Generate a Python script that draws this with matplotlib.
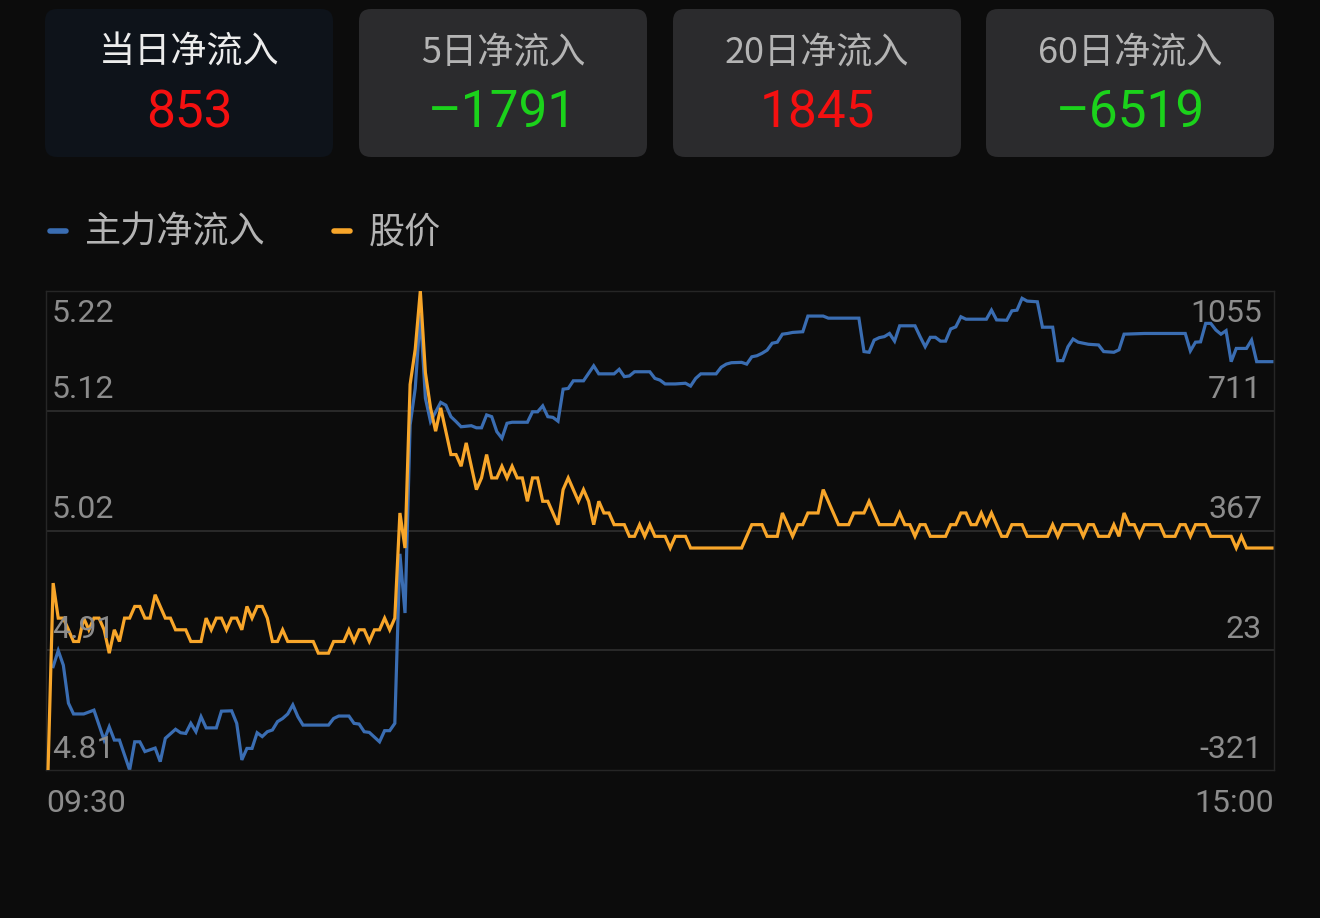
import numpy as np
import matplotlib
matplotlib.use('Agg')
import matplotlib.pyplot as plt
from matplotlib.patches import FancyBboxPatch
from matplotlib.lines import Line2D
from matplotlib.transforms import IdentityTransform

# summary cards
card_titles = ['当日净流入', '5日净流入', '20日净流入', '60日净流入']
card_values = [853, -1791, 1845, -6519]

# legend
series_names = ['主力净流入', '股价']

# axis labels
price_labels = ['4.81', '4.91', '5.02', '5.12', '5.22']
flow_labels = ['-321', '23', '367', '711', '1055']
time_labels = ['09:30', '15:00']

# main net inflow (minute index, value)
flow_idx = [1, 2, 3, 4, 5, 7, 9, 11, 12, 13, 14, 16, 17, 18, 19, 21, 22, 23, 25, 26,
            27, 28, 29, 30, 31, 33, 34, 36, 37, 38, 39, 40, 41, 42, 43, 44, 45, 46, 47, 48,
            49, 50, 55, 56, 57, 59, 60, 61, 62, 63, 65, 66, 67, 68, 69, 70, 71, 72, 73, 74,
            75, 77, 78, 79, 80, 81, 83, 84, 85, 86, 87, 88, 89, 90, 91, 94, 95, 96, 97, 98,
            99, 100, 101, 102, 103, 105, 107, 108, 111, 112, 113, 114, 115, 118, 119, 120, 121, 123, 125, 126,
            127, 128, 131, 132, 133, 134, 136, 137, 138, 139, 140, 141, 142, 143, 144, 145, 146, 148, 149, 152,
            153, 159, 160, 161, 162, 163, 164, 165, 166, 167, 170, 171, 172, 173, 174, 175, 176, 177, 178, 179,
            180, 184, 185, 186, 188, 189, 190, 191, 192, 194, 195, 197, 198, 199, 200, 201, 202, 204, 206, 207,
            209, 210, 211, 215, 223, 224, 225, 226, 227, 228, 229, 230, 231, 232, 233, 235, 236, 237, 240]
flow_vals = [-24, 22, -20, -129, -160, -160, -149, -235, -197, -235, -235, -321, -240, -240, -268, -258, -297, -230, -204, -214,
             -216, -187, -211, -168, -200, -200, -152, -151, -187, -292, -259, -259, -214, -225, -211, -206, -182, -173, -160, -134,
             -168, -192, -192, -173, -166, -166, -187, -189, -211, -213, -240, -208, -208, -187, 300, 130, 670, 775, 990, 747,
             680, 735, 727, 694, 680, 665, 668, 662, 662, 699, 694, 651, 632, 675, 678, 678, 708, 708, 725, 694,
             692, 681, 773, 775, 797, 797, 840, 817, 817, 830, 809, 811, 823, 823, 804, 799, 788, 788, 790, 782,
             804, 817, 817, 836, 845, 849, 850, 845, 866, 869, 876, 885, 905, 908, 931, 933, 936, 938, 983, 983,
             977, 977, 881, 879, 914, 921, 924, 933, 911, 955, 955, 924, 895, 922, 922, 911, 911, 946, 952, 981,
             974, 974, 1000, 972, 971, 998, 1000, 1034, 1026, 1024, 951, 951, 855, 855, 895, 917, 908, 902, 900, 881,
             879, 886, 931, 933, 933, 883, 908, 909, 962, 962, 943, 931, 941, 852, 890, 890, 914, 852, 852]

# share price (minute index, value)
price_idx = [0, 1, 2, 3, 4, 5, 6, 7, 8, 9, 10, 11, 12, 13, 14, 15, 16, 17, 18, 19,
             20, 21, 22, 23, 24, 25, 27, 28, 30, 31, 32, 33, 34, 35, 36, 37, 38, 39, 40, 41,
             42, 43, 44, 45, 46, 47, 52, 53, 55, 56, 58, 59, 60, 61, 62, 63, 64, 65, 66, 67,
             68, 69, 70, 71, 72, 73, 74, 75, 76, 77, 78, 79, 80, 81, 82, 83, 84, 85, 86, 87,
             88, 89, 90, 91, 92, 93, 94, 95, 96, 97, 98, 99, 100, 101, 102, 103, 104, 105, 106, 107,
             108, 109, 110, 111, 113, 114, 115, 116, 117, 118, 119, 121, 122, 123, 125, 126, 136, 138, 140, 141,
             143, 144, 145, 146, 147, 148, 149, 151, 152, 153, 154, 155, 157, 158, 160, 161, 162, 163, 166, 167,
             168, 169, 170, 171, 172, 173, 176, 177, 178, 179, 180, 181, 182, 183, 184, 185, 186, 187, 188, 189,
             191, 192, 196, 197, 198, 199, 202, 203, 204, 205, 206, 208, 209, 210, 211, 212, 213, 214, 215, 218,
             219, 221, 222, 223, 224, 225, 227, 228, 232, 233, 234, 235, 240]
price_vals = [4.81, 4.97, 4.94, 4.94, 4.93, 4.92, 4.92, 4.94, 4.93, 4.94, 4.94, 4.93, 4.91, 4.93, 4.92, 4.94, 4.94, 4.95, 4.95, 4.94,
              4.94, 4.96, 4.95, 4.94, 4.94, 4.93, 4.93, 4.92, 4.92, 4.94, 4.93, 4.94, 4.94, 4.93, 4.94, 4.94, 4.93, 4.95, 4.94, 4.95,
              4.95, 4.94, 4.92, 4.92, 4.93, 4.92, 4.92, 4.91, 4.91, 4.92, 4.92, 4.93, 4.92, 4.93, 4.93, 4.92, 4.93, 4.93, 4.94, 4.93,
              4.94, 5.03, 5.00, 5.14, 5.17, 5.22, 5.15, 5.12, 5.10, 5.12, 5.10, 5.08, 5.08, 5.07, 5.09, 5.07, 5.05, 5.06, 5.08, 5.06,
              5.06, 5.07, 5.06, 5.07, 5.06, 5.06, 5.04, 5.06, 5.06, 5.04, 5.04, 5.03, 5.02, 5.05, 5.06, 5.05, 5.04, 5.05, 5.04, 5.02,
              5.04, 5.03, 5.03, 5.02, 5.02, 5.01, 5.01, 5.02, 5.01, 5.02, 5.01, 5.01, 5.00, 5.01, 5.01, 5.00, 5.00, 5.02, 5.02, 5.01,
              5.01, 5.03, 5.02, 5.01, 5.02, 5.02, 5.03, 5.03, 5.05, 5.04, 5.03, 5.02, 5.02, 5.03, 5.03, 5.04, 5.03, 5.02, 5.02, 5.03,
              5.02, 5.02, 5.01, 5.02, 5.02, 5.01, 5.01, 5.02, 5.02, 5.03, 5.03, 5.02, 5.02, 5.03, 5.02, 5.03, 5.02, 5.01, 5.01, 5.02,
              5.02, 5.01, 5.01, 5.02, 5.01, 5.02, 5.02, 5.01, 5.02, 5.02, 5.01, 5.01, 5.02, 5.01, 5.03, 5.02, 5.02, 5.01, 5.02, 5.02,
              5.01, 5.01, 5.02, 5.02, 5.01, 5.02, 5.02, 5.01, 5.01, 5.00, 5.01, 5.00, 5.00]

W, H = 1320, 918
BG = '#0c0c0c'
BLUE = '#3a6db2'
ORANGE = '#f8a62a'
RED = '#f51010'
GREEN = '#1bd21b'
CJK = ['Noto Sans CJK SC', 'DejaVu Sans']
NUM = ['Roboto', 'DejaVu Sans']

fig = plt.figure(figsize=(W / 100, H / 100), dpi=100, facecolor=BG)


def fx(x):
    return x / W


def fy(y):
    return 1 - y / H


# cards
card_left = [45, 359, 673, 986]
for i, (title, val) in enumerate(zip(card_titles, card_values)):
    x0 = card_left[i]
    face = '#0e131a' if i == 0 else '#2b2b2d'
    box = FancyBboxPatch((x0, H - 157), 288, 148,
                         boxstyle='round,pad=0,rounding_size=12',
                         transform=IdentityTransform(), facecolor=face,
                         edgecolor='none')
    fig.add_artist(box)
    cx = fx(x0 + 144)
    fig.text(cx, fy(53), title, ha='center', va='center', fontsize=26,
             family=CJK, color='#ececec' if i == 0 else '#b4b4b4',
             fontweight='medium' if i == 0 else 'normal')
    txt = str(val) if val >= 0 else '\u2013' + str(-val)
    fig.text(cx, fy(113), txt, ha='center', va='center', fontsize=37,
             family=NUM, color=RED if val >= 0 else GREEN)

# legend
leg = [(48, 85, BLUE), (332, 369, ORANGE)]
for (lx, tx, col), name in zip(leg, series_names):
    fig.add_artist(Line2D([fx(lx + 2), fx(lx + 18)], [fy(231), fy(231)],
                          color=col, lw=4, solid_capstyle='round'))
    fig.text(fx(tx), fy(233), name, ha='left', va='center', fontsize=26,
             family=CJK, color='#b4b4b4')

# chart
ax = fig.add_axes([fx(46), fy(770), 1228 / W, 479 / H])
ax.set_facecolor('none')
ax.set_xlim(-0.4, 240.4)
ax.set_ylim(-321, 1055)
ax.set_xticks([])
ax.set_yticks([])
for s in ax.spines.values():
    s.set_color('#262626')
    s.set_linewidth(1)

flow_ticks = np.linspace(-321, 1055, 5)
for v in flow_ticks[1:-1]:
    ax.axhline(v, color='#2f2f2f', lw=1.2, zorder=0)

ax.plot(flow_idx, flow_vals, color=BLUE, lw=2.3, solid_joinstyle='miter')

ax2 = ax.twinx()
ax2.set_ylim(4.81, 5.22)
ax2.set_yticks([])
for s in ax2.spines.values():
    s.set_visible(False)
ax2.plot(price_idx, price_vals, color=ORANGE, lw=2.3, solid_joinstyle='miter')

price_ticks = np.linspace(4.81, 5.22, 5)
for k in range(5):
    dy = -22 if k == 4 else 21
    ax2.annotate(price_labels[k], xy=(0, price_ticks[k]),
                 xycoords=ax2.get_yaxis_transform(),
                 xytext=(6, dy), textcoords='offset pixels',
                 ha='left', va='center', fontsize=23, family=NUM,
                 color='#8c8c8c')
    ax.annotate(flow_labels[k], xy=(1, flow_ticks[k]),
                xycoords=ax.get_yaxis_transform(),
                xytext=(-12, dy), textcoords='offset pixels',
                ha='right', va='center', fontsize=23, family=NUM,
                color='#8c8c8c')

ax.annotate(time_labels[0], xy=(0, 0), xycoords='axes fraction',
            xytext=(0, -33), textcoords='offset pixels', ha='left',
            va='center', fontsize=23, family=NUM, color='#8c8c8c')
ax.annotate(time_labels[1], xy=(1, 0), xycoords='axes fraction',
            xytext=(0, -33), textcoords='offset pixels', ha='right',
            va='center', fontsize=23, family=NUM, color='#8c8c8c')

fig.savefig('out.png', dpi=100, facecolor=BG)
